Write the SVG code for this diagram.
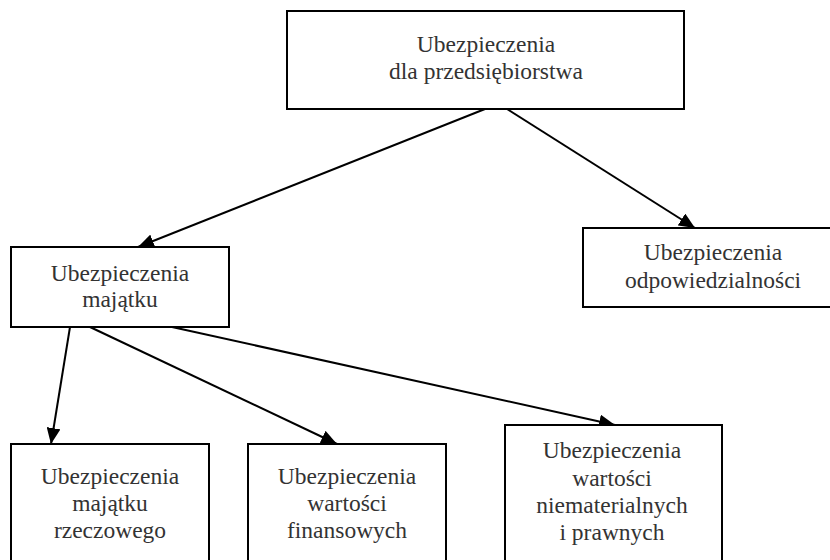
<svg xmlns="http://www.w3.org/2000/svg" width="830" height="560" viewBox="0 0 830 560">
<style>
.box{fill:#fff;stroke:#000;stroke-width:2}
.lbl{font-family:"Liberation Serif","Times New Roman",serif;font-size:23.5px;fill:#333;text-anchor:middle}
.con{stroke:#000;stroke-width:2;fill:none;marker-end:url(#arr)}
</style>
<defs>
<marker id="arr" markerUnits="userSpaceOnUse" markerWidth="16" markerHeight="14" viewBox="0 0 16 14" refX="16" refY="7" orient="auto">
<path d="M0,0 L16,7 L0,14 Z" fill="#000"/>
</marker>
</defs>
<rect width="830" height="560" fill="#fff"/>
<g id="connectors">
<line class="con" x1="485" y1="109" x2="138" y2="247"/>
<line class="con" x1="507" y1="109" x2="695" y2="228"/>
<line class="con" x1="70" y1="327" x2="51" y2="444"/>
<line class="con" x1="90" y1="327" x2="337" y2="444"/>
<line class="con" x1="172" y1="327" x2="615" y2="425"/>
</g>
<g id="n-root">
<rect class="box" x="287" y="11" width="397" height="98"/>
<text class="lbl" x="486" y="52">Ubezpieczenia</text>
<text class="lbl" x="486" y="79">dla przedsiębiorstwa</text>
</g>
<g id="n-majatku">
<rect class="box" x="11" y="247" width="218" height="80"/>
<text class="lbl" x="120" y="281">Ubezpieczenia</text>
<text class="lbl" x="120" y="307">majątku</text>
</g>
<g id="n-odpow">
<rect class="box" x="583" y="228" width="262" height="79"/>
<text class="lbl" x="713" y="260">Ubezpieczenia</text>
<text class="lbl" x="713" y="288">odpowiedzialności</text>
</g>
<g id="n-rzecz">
<rect class="box" x="11" y="444" width="198" height="130"/>
<text class="lbl" x="110" y="484">Ubezpieczenia</text>
<text class="lbl" x="110" y="511">majątku</text>
<text class="lbl" x="110" y="538">rzeczowego</text>
</g>
<g id="n-finans">
<rect class="box" x="248" y="444" width="198" height="130"/>
<text class="lbl" x="347" y="484">Ubezpieczenia</text>
<text class="lbl" x="347" y="511">wartości</text>
<text class="lbl" x="347" y="538">finansowych</text>
</g>
<g id="n-niemat">
<rect class="box" x="505" y="425" width="217" height="150"/>
<text class="lbl" x="612" y="458">Ubezpieczenia</text>
<text class="lbl" x="612" y="486">wartości</text>
<text class="lbl" x="612" y="513">niematerialnych</text>
<text class="lbl" x="612" y="540">i prawnych</text>
</g>
</svg>
